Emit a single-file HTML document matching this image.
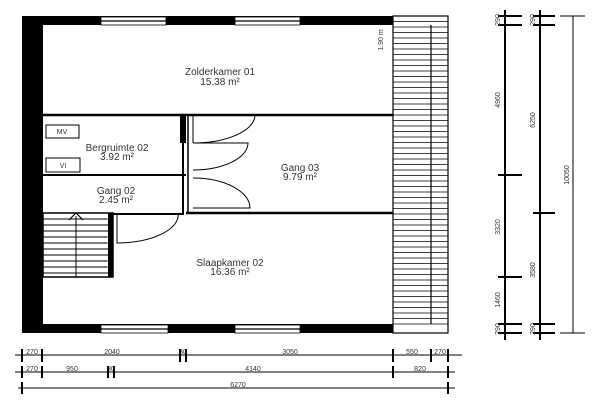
<!DOCTYPE html><html><head><style>body{margin:0;background:#fff}svg{display:block}text{font-family:"Liberation Sans",sans-serif;fill:#333}</style></head><body>
<svg width="600" height="400" viewBox="0 0 600 400" xmlns="http://www.w3.org/2000/svg">
<g stroke="#000" fill="none">
<!-- outer walls -->
<rect x="22" y="16" width="21" height="317" fill="#000" stroke="none"/>
<rect x="22" y="16" width="371" height="9" fill="#000" stroke="none"/>
<rect x="22" y="324" width="371" height="9" fill="#000" stroke="none"/>
<!-- windows -->
<rect x="101" y="17" width="65" height="8" fill="#fff" stroke-width="0.8"/>
<rect x="235" y="17" width="65" height="8" fill="#fff" stroke-width="0.8"/>
<line x1="101" y1="21" x2="166" y2="21" stroke-width="1.2"/><line x1="235" y1="21" x2="300" y2="21" stroke-width="1.2"/>
<rect x="101" y="325" width="67" height="8" fill="#fff" stroke-width="0.8"/>
<rect x="235" y="325" width="65" height="8" fill="#fff" stroke-width="0.8"/>
<line x1="101" y1="329" x2="168" y2="329" stroke-width="1.2"/><line x1="235" y1="329" x2="300" y2="329" stroke-width="1.2"/>
<!-- hatched roof -->
<rect x="393" y="16" width="55" height="317" stroke-width="1.2"/>
<path d="M393 21.5H448M393 27H448M393 32.5H448M393 38H448M393 43.5H448M393 49H448M393 54.5H448M393 60H448M393 65.5H448M393 71H448M393 76.5H448M393 82H448M393 87.5H448M393 93H448M393 98.5H448M393 104H448M393 109.5H448M393 115H448M393 120.5H448M393 126H448M393 131.5H448M393 137H448M393 142.5H448M393 148H448M393 153.5H448M393 159H448M393 164.5H448M393 170H448M393 175.5H448M393 181H448M393 186.5H448M393 192H448M393 197.5H448M393 203H448M393 208.5H448M393 214H448M393 219.5H448M393 225H448M393 230.5H448M393 236H448M393 241.5H448M393 247H448M393 252.5H448M393 258H448M393 263.5H448M393 269H448M393 274.5H448M393 280H448M393 285.5H448M393 291H448M393 296.5H448M393 302H448M393 307.5H448M393 313H448M393 318.5H448M393 324H448" stroke-width="0.8"/>
<line x1="431" y1="25" x2="431" y2="324" stroke-width="1.2"/>
<!-- interior walls -->
<line x1="43" y1="115" x2="393" y2="115" stroke-width="2.5"/>
<line x1="186" y1="213" x2="393" y2="213" stroke-width="2.5"/>
<rect x="180" y="115" width="6" height="28" fill="#000" stroke="none"/>
<line x1="188" y1="115" x2="188" y2="213" stroke-width="1.5"/>
<line x1="183" y1="143" x2="183" y2="215" stroke-width="2"/>
<line x1="43" y1="175" x2="186" y2="175" stroke-width="2"/>
<line x1="112" y1="214" x2="183" y2="214" stroke-width="2"/>
<!-- doors -->
<path d="M193 115V143M193 143A62 28 0 0 0 255 115" stroke-width="1"/>
<path d="M193 143H248A55 27 0 0 1 193 170" stroke-width="1"/>
<path d="M193 178A57 30 0 0 1 250 208H193" stroke-width="1"/>
<path d="M117 215V243A62 28 0 0 0 178 213" stroke-width="1"/>
<!-- stairs -->
<rect x="43" y="213" width="70" height="64" fill="#fff" stroke-width="1.5"/>
<rect x="108" y="213" width="5" height="64" fill="#000" stroke="none"/>
<path d="M43 219H108M43 225H108M43 231H108M43 237H108M43 243H108M43 249H108M43 255H108M43 261H108M43 267H108M43 273H108" stroke-width="1"/>
<line x1="76" y1="216" x2="76" y2="277" stroke-width="1"/>
<path d="M69 220L76 213L83 220" stroke-width="1.2"/>
<!-- MV / VI boxes -->
<rect x="46" y="125" width="33" height="13" stroke-width="1"/>
<rect x="46" y="158" width="34" height="14" stroke-width="1"/>
<!-- bottom dims -->
<g stroke-width="1">
<line x1="15" y1="355" x2="462" y2="355"/>
<line x1="15" y1="372" x2="455" y2="372"/>
<line x1="18" y1="388" x2="455" y2="388"/>
</g>
<g stroke-width="2">
<path d="M22 349V362M42 349V362M180 349V362M186 349V362M393 349V362M431 349V362M448 349V362"/>
<path d="M22 366V378M42 366V378M108 366V378M114 366V378M393 366V378M448 366V378"/>
<path d="M22 382V394M448 382V394"/>
<path d="M505 10V340M540 10V340"/>
<path d="M498 16H522M498 25H522M498 175H522M498 277H522M498 324H522M498 333H522"/>
<path d="M533 16H555M533 25H555M533 213H555M533 324H555M533 333H555"/>
</g>
<line x1="573" y1="16" x2="573" y2="333" stroke-width="1"/>
<path d="M560 16H585M560 333H585" stroke-width="1"/>
</g>
<g font-size="10" text-anchor="middle">
<text x="220" y="75">Zolderkamer 01</text><text x="220" y="85">15.38 m²</text>
<text x="117" y="151">Bergruimte 02</text><text x="117" y="160">3.92 m²</text>
<text x="300" y="171">Gang 03</text><text x="300" y="180">9.79 m²</text>
<text x="116" y="194">Gang 02</text><text x="116" y="203">2.45 m²</text>
<text x="230" y="266">Slaapkamer 02</text><text x="230" y="275">16.36 m²</text>
</g>
<g font-size="7" text-anchor="middle">
<text x="62" y="134">MV</text><text x="63" y="168">VI</text>
<text x="32" y="354">270</text><text x="112" y="354">2040</text><text x="183" y="354">30</text><text x="290" y="354">3050</text><text x="412" y="354">550</text><text x="440" y="354">270</text>
<text x="32" y="371">270</text><text x="72" y="371">950</text><text x="111" y="371">30</text><text x="253" y="371">4140</text><text x="420" y="371">820</text>
<text x="238" y="387">6270</text>
</g>
<g font-size="7" text-anchor="middle">
<text transform="translate(383,40) rotate(-90)">1.90 m</text>
<text transform="translate(500,100) rotate(-90)">4960</text>
<text transform="translate(535,120) rotate(-90)">6250</text>
<text transform="translate(569,175) rotate(-90)">10050</text>
<text transform="translate(500,227) rotate(-90)">3320</text>
<text transform="translate(535,270) rotate(-90)">3580</text>
<text transform="translate(500,300) rotate(-90)">1460</text>
<text transform="translate(500,20) rotate(-90)">290</text><text transform="translate(535,20) rotate(-90)">290</text>
<text transform="translate(500,329) rotate(-90)">290</text><text transform="translate(535,329) rotate(-90)">290</text>
</g>
</svg>
</body></html>
